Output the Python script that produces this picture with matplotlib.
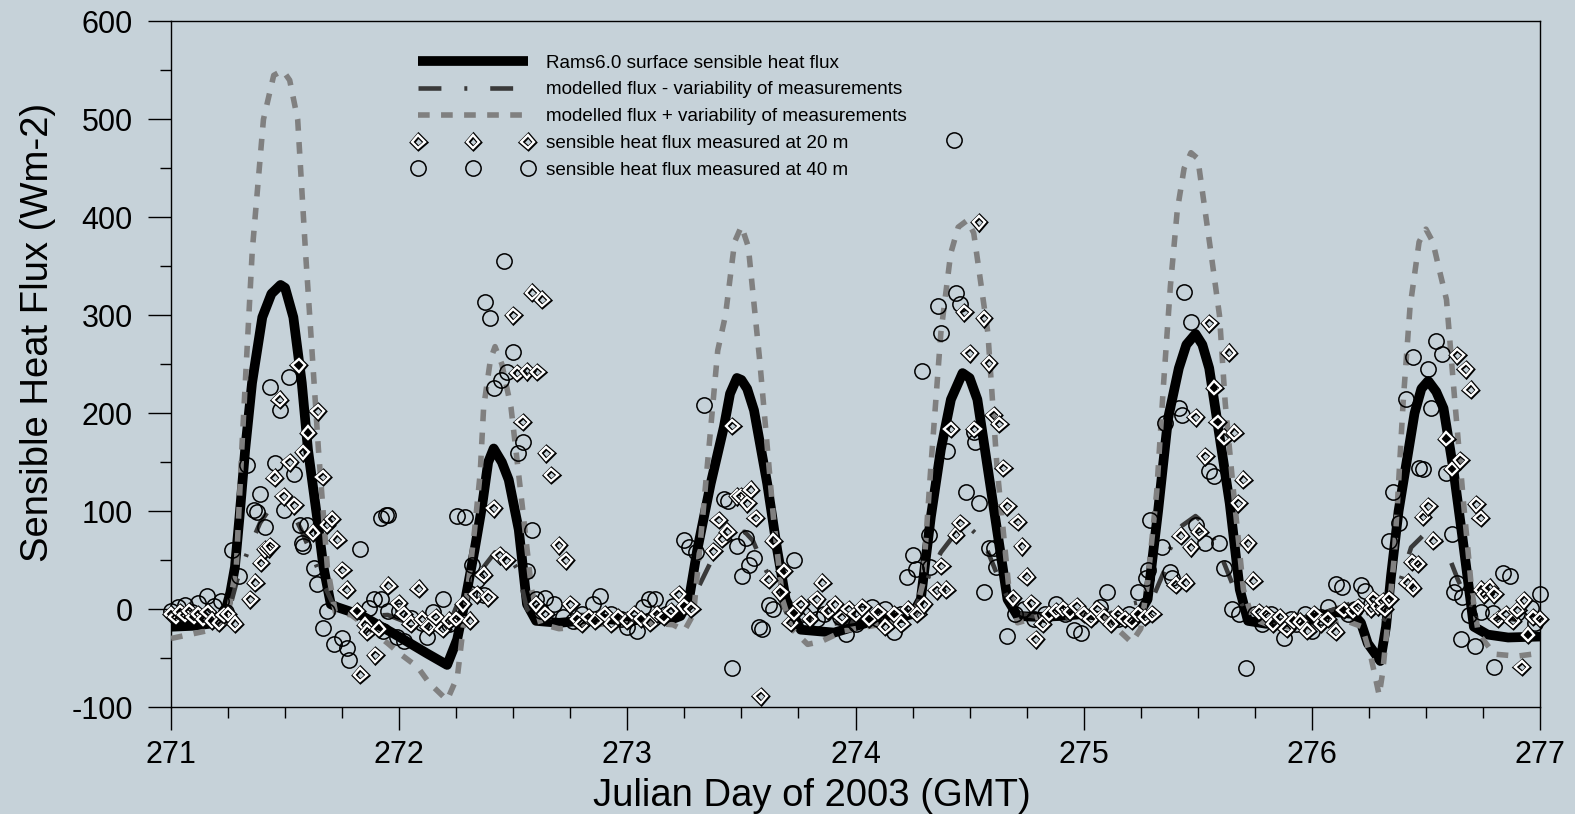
import matplotlib
matplotlib.use("Agg")
import matplotlib.pyplot as plt
from matplotlib.lines import Line2D
from matplotlib.legend_handler import HandlerLine2D
from matplotlib.ticker import MultipleLocator
import matplotlib.patheffects as pe

plt.rcParams["font.family"] = ["Liberation Sans", "DejaVu Sans"]
plt.rcParams["axes.unicode_minus"] = False

BG = "#c6d2d9"

# ---- RAMS model flux ----
t_rams = [271.0, 271.1, 271.2, 271.24, 271.26, 271.28, 271.30, 271.325, 271.355, 271.40,
          271.44, 271.48, 271.50, 271.536, 271.573, 271.60, 271.64, 271.668, 271.70, 271.728,
          271.83, 271.976, 272.12, 272.21, 272.254, 272.29, 272.33, 272.363, 272.39, 272.414,
          272.45, 272.48, 272.524, 272.56, 272.60, 272.70, 272.80, 272.90, 273.0, 273.1,
          273.2, 273.233, 273.27, 273.306, 273.365, 273.423, 273.45, 273.48, 273.50, 273.525,
          273.555, 273.613, 273.657, 273.694, 273.76, 273.906, 274.05, 274.2, 274.25, 274.286,
          274.33, 274.374, 274.418, 274.469, 274.50, 274.534, 274.578, 274.622, 274.666, 274.71,
          274.8, 274.9, 275.0, 275.1, 275.22, 275.28, 275.326, 275.37, 275.417, 275.45,
          275.49, 275.52, 275.55, 275.595, 275.64, 275.684, 275.72, 275.8, 275.9, 276.0,
          276.1, 276.18, 276.215, 276.245, 276.30, 276.325, 276.347, 276.38, 276.415, 276.45,
          276.48, 276.51, 276.545, 276.577, 276.62, 276.66, 276.688, 276.71, 276.77, 276.86,
          277.0]
rams = [-18, -17, -14, 0, 17, 43, 94, 163, 231, 298,
        322, 331, 328, 298, 231, 163, 94, 43, 5, 2,
        -6, -25, -45, -57, -31, 10, 60, 105, 150, 164,
        150, 132, 81, 5, -12, -14, -12, -10, -12, -10,
        -10, -7, 10, 60, 128, 186, 220, 236, 234, 225,
        203, 128, 60, 10, -21, -24, -14, -8, -5, 10,
        94, 163, 214, 241, 236, 214, 146, 78, 10, -7,
        -8, -7, -5, -8, -14, 10, 100, 195, 246, 270,
        281, 270, 246, 177, 108, 20, -12, -15, -14, -10,
        -3, -5, -14, -35, -53, -18, 34, 100, 150, 200,
        225, 233, 222, 205, 143, 73, 22, -18, -26, -29,
        -28]

# ---- modelled flux + variability ----
t_plus = [271.0, 271.1, 271.2, 271.25, 271.286, 271.31, 271.356, 271.405, 271.45, 271.49,
          271.52, 271.555, 271.589, 271.646, 271.685, 271.72, 271.79, 271.87, 271.95, 272.0,
          272.08, 272.13, 272.21, 272.255, 272.30, 272.33, 272.355, 272.37, 272.40, 272.42,
          272.45, 272.49, 272.54, 272.58, 272.62, 272.7, 272.8, 272.9, 273.0, 273.1,
          273.2, 273.25, 273.29, 273.33, 273.396, 273.43, 273.47, 273.5, 273.53, 273.56,
          273.58, 273.64, 273.68, 273.72, 273.79, 273.85, 273.95, 274.05, 274.15, 274.22,
          274.26, 274.295, 274.33, 274.374, 274.417, 274.45, 274.49, 274.518, 274.58, 274.62,
          274.67, 274.71, 274.8, 274.9, 275.0, 275.1, 275.21, 275.25, 275.28, 275.32,
          275.35, 275.38, 275.41, 275.44, 275.47, 275.50, 275.53, 275.56, 275.595, 275.62,
          275.654, 275.70, 275.74, 275.8, 275.9, 276.0, 276.1, 276.15, 276.22, 276.26,
          276.295, 276.31, 276.36, 276.375, 276.40, 276.43, 276.47, 276.50, 276.53, 276.56,
          276.59, 276.627, 276.665, 276.70, 276.73, 276.80, 276.90, 277.0]
plus = [-30, -25, -20, -5, 43, 163, 366, 500, 545, 550,
        540, 500, 366, 163, 43, -3, -6, -20, -35, -45,
        -59, -75, -93, -69, 20, 80, 139, 206, 255, 268,
        250, 206, 104, 20, -15, -20, -18, -15, -15, -14,
        -16, -22, -5, 94, 264, 300, 375, 391, 370, 300,
        254, 94, 10, -20, -36, -33, -22, -18, -14, -10,
        -5, 26, 145, 282, 363, 390, 397, 384, 282, 145,
        26, -14, -8, -3, -5, -10, -34, -20, 27, 120,
        230, 330, 407, 450, 466, 460, 410, 360, 300, 211,
        126, 20, -10, -15, -18, -18, -15, -12, -18, -50,
        -88, -65, 50, 108, 211, 308, 375, 388, 375, 345,
        316, 211, 108, 20, -25, -46, -48, -45]

# ---- modelled flux - variability ----
t_minus = [271.0, 271.1, 271.2, 271.25, 271.29, 271.333, 271.39, 271.44, 271.49, 271.53,
           271.57, 271.633, 271.68, 271.72, 271.8, 271.95, 272.05, 272.15, 272.21, 272.255,
           272.3, 272.36, 272.42, 272.48, 272.52, 272.56, 272.6, 272.7, 272.8, 272.9,
           273.0, 273.1, 273.2, 273.25, 273.317, 273.38, 273.45, 273.514, 273.55, 273.59,
           273.65, 273.7, 273.78, 273.9, 274.05, 274.2, 274.25, 274.32, 274.374, 274.43,
           274.5, 274.56, 274.63, 274.68, 274.72, 274.8, 274.9, 275.0, 275.1, 275.22,
           275.3, 275.355, 275.375, 275.43, 275.49, 275.54, 275.565, 275.61, 275.67, 275.72,
           275.8, 275.9, 276.0, 276.1, 276.2, 276.3, 276.33, 276.383, 276.435, 276.5,
           276.547, 276.59, 276.64, 276.69, 276.75, 276.85, 276.92, 277.0]
minus = [-5, -8, -8, -5, 30, 57, 88, 105, 112, 100,
         81, 47, 20, 0, -8, -6, -15, -20, -21, 5,
         5, 40, 58, 55, 40, 0, -10, -8, -6, -6,
         -9, -6, -4, -5, 25, 55, 75, 79, 70, 48,
         20, -5, -10, -15, -10, -6, -5, 33, 58, 75,
         83, 70, 30, 5, -5, -8, -11, -5, -6, 6,
         10, 40, 60, 85, 95, 85, 74, 50, 15, -8,
         -15, -10, -8, 0, 8, -18, -5, 25, 63, 78,
         77, 60, 30, 5, -5, -10, -11, -10]

# ---- measured at 40 m (circles) ----
t40 = [271.0, 271.03, 271.06, 271.09, 271.12, 271.157, 271.19, 271.22, 271.24,
       271.267, 271.30, 271.333, 271.362, 271.377, 271.391, 271.413, 271.435, 271.457, 271.476,
       271.494, 271.515, 271.537, 271.567, 271.58, 271.596, 271.574, 271.625, 271.64, 271.683,
       271.668, 271.713, 271.75, 271.771, 271.78, 271.83, 271.866, 271.888, 271.918, 271.918,
       271.94, 271.953, 271.93, 271.95, 271.99, 272.0, 272.02, 272.05, 272.1, 272.12,
       272.15, 272.19, 272.22, 272.254,
       272.29, 272.32, 272.375, 272.396, 272.414, 272.444, 272.458, 272.473, 272.50, 272.52,
       272.543, 272.583, 272.56, 272.37, 272.34, 272.6, 272.64, 272.62,
       272.68, 272.72, 272.76, 272.8, 272.85, 272.88, 272.93, 272.97, 273.0, 273.043,
       273.07, 273.094, 273.12, 273.17, 273.2,
       273.247, 273.27, 273.30, 273.335, 273.423, 273.44, 273.46, 273.482, 273.503, 273.518,
       273.533, 273.555, 273.577, 273.59, 273.62, 273.64, 273.73,
       273.77, 273.8, 273.83, 273.86, 273.9, 273.93, 273.96, 274.0, 274.03, 274.07,
       274.1, 274.13, 274.17, 274.2,
       274.227, 274.25, 274.264, 274.293, 274.32, 274.326, 274.36, 274.374, 274.40, 274.43,
       274.44, 274.46, 274.483, 274.52, 274.525, 274.54, 274.563, 274.585, 274.607, 274.614,
       274.666,
       274.7, 274.74, 274.78, 274.83, 274.88, 274.92, 274.958, 274.988, 275.03, 275.07,
       275.104, 275.15, 275.2, 275.236,
       275.275, 275.28, 275.29, 275.343, 275.358, 275.38, 275.387, 275.417, 275.44, 275.432,
       275.47, 275.49, 275.53, 275.55, 275.573, 275.595, 275.617, 275.65, 275.68, 275.71,
       275.75, 275.78, 275.82, 275.85, 275.88, 275.91, 275.93, 275.97, 276.0, 276.04,
       276.07, 276.105, 276.13, 276.16, 276.19, 276.215, 276.234, 276.26,
       276.34, 276.354, 276.383, 276.414, 276.443, 276.47, 276.487, 276.51, 276.524, 276.546,
       276.57, 276.59, 276.614, 276.624, 276.636, 276.654, 276.658, 276.69, 276.713, 276.742,
       276.793, 276.80, 276.837, 276.867, 276.90, 276.96, 276.976, 277.0]
f40 = [-2, 2, 4, -3, 6, 13, 3, 8, -3,
       60, 34, 147, 101, 99, 118, 84, 227, 149, 203,
       101, 237, 138, 86, 64, 86, 68, 42, 26, -2,
       -19, -36, -30, -40, -52, 61, 1, 10, 10, 93,
       96, 96, -22, -2, -28, -2, -33, -9, -14, -28,
       -3, 10, -15, 95,
       94, 45, 314, 297, 226, 234, 355, 242, 263, 159,
       171, 81, 39, 14, 30, 10, 11, -2,
       5, -8, -12, -5, 5, 13, -5, -10, -18, -22,
       2, 10, 10, -5, 3,
       71, 63, 58, 208, 112, 110, -60, 64, 34, 73,
       45, 52, -18, -20, 4, 0, 50,
       -5, 0, -10, -5, 2, -8, -25, -15, -5, 2,
       -10, 0, -23, -5,
       33, 55, 41, 243, 76, 43, 309, 282, 161, 479,
       323, 312, 120, 181, 171, 108, 17, 62, 62, 43,
       -27,
       -5, 0, -10, -5, 5, -5, -21, -24, -8, 2,
       17, -10, -5, 17,
       32, 40, 91, 63, 190, 38, 32, 205, 324, 198,
       293, 86, 67, 141, 136, 67, 42, 0, -5, -60,
       -5, -15, -5, -10, -30, -10, -15, -5, -22, -8,
       2, 26, 23, -5, 0, 25, 18, 5,
       70, 120, 88, 215, 257, 144, 143, 245, 205, 274,
       260, 139, 77, 17, 27, -31, 12, -6, -38, -3,
       -4, -59, 37, 34, -4, 1, -14, 15]

# ---- measured at 20 m (diamonds) ----
t20 = [271.0, 271.02, 271.04, 271.06, 271.08, 271.1, 271.12, 271.14, 271.16, 271.18,
       271.21, 271.23, 271.25, 271.28,
       271.348, 271.37, 271.394, 271.413, 271.428, 271.435, 271.454, 271.476, 271.494, 271.52,
       271.54, 271.56, 271.578, 271.60, 271.622, 271.642, 271.665, 271.684, 271.705, 271.728,
       271.75, 271.77, 271.815, 271.83, 271.85, 271.86, 271.895, 271.91, 271.953, 271.998,
       272.02, 272.05, 272.086, 272.1, 272.13, 272.16, 272.19, 272.22, 272.25,
       272.28, 272.31, 272.34, 272.37, 272.39, 272.414, 272.44, 272.47, 272.50, 272.517,
       272.542, 272.56, 272.583, 272.605, 272.627, 272.645, 272.666, 272.70, 272.73, 272.6,
       272.64,
       272.75, 272.78, 272.8, 272.83, 272.86, 272.9, 272.93, 272.96, 273.0, 273.03,
       273.06, 273.1, 273.13, 273.16, 273.19, 273.225, 273.25, 273.28,
       273.376, 273.40, 273.416, 273.438, 273.46, 273.48, 273.497, 273.526, 273.54, 273.562,
       273.584, 273.62, 273.64, 273.67, 273.686, 273.715, 273.73,
       273.76, 273.8, 273.83, 273.854, 273.88, 273.91, 273.94, 273.97, 274.0, 274.03,
       274.06, 274.1, 274.13, 274.17, 274.2, 274.23, 274.27, 274.3,
       274.356, 274.376, 274.398, 274.417, 274.44, 274.46, 274.476, 274.50, 274.52, 274.541,
       274.563, 274.585, 274.606, 274.63, 274.648, 274.666, 274.69, 274.71, 274.73, 274.75,
       274.77, 274.79,
       274.82, 274.85, 274.88, 274.91, 274.94, 274.97, 275.0, 275.03, 275.06, 275.09,
       275.12, 275.15, 275.18, 275.21, 275.24, 275.27, 275.3,
       275.403, 275.425, 275.447, 275.47, 275.49, 275.507, 275.533, 275.55, 275.573, 275.588,
       275.617, 275.637, 275.66, 275.677, 275.70, 275.72, 275.744,
       275.77, 275.8, 275.83, 275.86, 275.89, 275.92, 275.95, 275.98, 276.01, 276.04,
       276.07, 276.105, 276.14, 276.18, 276.2, 276.26, 276.27, 276.29, 276.31, 276.32,
       276.34,
       276.42, 276.44, 276.443, 276.465, 276.487, 276.51, 276.532, 276.59, 276.614, 276.637,
       276.65, 276.674, 276.696, 276.72, 276.74, 276.742, 276.756, 276.78, 276.80, 276.815,
       276.85, 276.88, 276.9, 276.92, 276.93, 276.947, 276.97, 277.0]
f20 = [-5, -8, -3, -6, -2, -8, -5, -10, -3, -12,
       -14, -6, -5, -15,
       10, 27, 47, 61, 62, 64, 134, 214, 115, 150,
       106, 249, 160, 180, 78, 202, 135, 86, 92, 71,
       40, 20, -2, -67, -16, -23, -47, -20, 24, 6,
       -5, -15, 21, -10, -18, -8, -20, -12, -10,
       5, -12, 15, 35, 12, 103, 55, 50, 300, 241,
       191, 243, 323, 242, 316, 159, 137, 65, 50, 5,
       -5,
       5, -10, -15, -8, -12, -5, -15, -8, -12, -5,
       -10, -14, -5, -8, -2, 15, 3, 0,
       59, 91, 72, 79, 187, 115, 115, 108, 122, 93,
       -89, 30, 70, 17, 39, -14, -4,
       5, -10, 10, 27, -2, 5, -8, 0, -5, 2,
       -10, -3, -18, -5, -15, 0, -5, 5,
       19, 44, 20, 184, 76, 88, 303, 261, 184, 395,
       297, 251, 198, 189, 144, 105, 11, 89, 64, 33,
       6, -31,
       -15, -5, -2, 0, -3, 3, -5, -10, 0, -8,
       -15, -5, -10, -12, -5, -8, -5,
       25, 75, 27, 63, 196, 79, 156, 292, 226, 191,
       175, 262, 180, 108, 132, 67, 29,
       -3, -5, -15, -8, -20, -12, -13, -22, -5, -15,
       -10, -23, -1, -2, 2, 1, 10, 3, 8, 0,
       10,
       27, 48, 22, 46, 94, 105, 70, 174, 143, 259,
       152, 245, 224, 107, 93, 20, 15, 22, 15, -10,
       -5, -12, -1, -59, 9, -26, -8, -10]

# ---- Figure ----
fig = plt.figure(figsize=(15.75, 8.14), dpi=100)
fig.patch.set_facecolor(BG)
ax = fig.add_axes([0.1086, 0.1314, 0.8692, 0.8422])
ax.set_facecolor(BG)

MINUS_DASH = (0, (5.0, 5.0, 0.65, 5.0))
PLUS_DASH = (0, (2.1, 2.05))

ax.plot(t_rams, rams, color="black", lw=7, solid_joinstyle="round", zorder=2)
ax.plot(t_minus, minus, color="#3a3a3a", lw=3.3, linestyle=MINUS_DASH, zorder=3)
ax.plot(t_plus, plus, color="#808080", lw=4, linestyle=PLUS_DASH, zorder=4)

# circles (40 m)
ax.plot(t40, f40, linestyle="none", marker="o", ms=11, mfc="none",
        mec="black", mew=1.1, clip_on=False, zorder=5)

# diamonds (20 m): black outline with white band, drawn one by one
dia_fx = [pe.Stroke(linewidth=3.5, foreground="black"), pe.Normal()]
for t, v in zip(t20, f20):
    ax.plot([t], [v], linestyle="none", marker="D", ms=6.5, mfc="none",
            mec="white", mew=1.7, clip_on=False, zorder=6, path_effects=dia_fx)

ax.set_xlim(271, 277)
ax.set_ylim(-100, 600)
ax.xaxis.set_major_locator(MultipleLocator(1))
ax.xaxis.set_minor_locator(MultipleLocator(0.25))
ax.yaxis.set_major_locator(MultipleLocator(100))
ax.yaxis.set_minor_locator(MultipleLocator(50))
ax.tick_params(which="both", direction="out", width=1.0, color="black")
ax.tick_params(axis="x", which="major", length=16.5, pad=7, labelsize=22)
ax.tick_params(axis="y", which="major", length=16.5, pad=11, labelsize=22)
ax.tick_params(which="minor", length=8)
for s in ax.spines.values():
    s.set_linewidth(1.0)
    s.set_color("black")

ax.set_xlabel("Julian Day of 2003 (GMT)", fontsize=27.5)
ax.xaxis.set_label_coords(0.468, -0.104)
ax.set_ylabel("Sensible Heat Flux (Wm-2)", fontsize=27.5)
ax.yaxis.set_label_coords(-0.084, 0.547)

# ---- Legend ----
h_rams = Line2D([], [], color="black", lw=7, solid_capstyle="butt")
h_minus = Line2D([], [], color="#3a3a3a", lw=3.3, linestyle=MINUS_DASH)
h_plus = Line2D([], [], color="#808080", lw=4, linestyle=PLUS_DASH)
h_20 = Line2D([], [], linestyle="none", marker="D", ms=6.5, mfc="none", mec="white",
              mew=1.7, path_effects=dia_fx)
h_40 = Line2D([], [], linestyle="none", marker="o", ms=11, mfc="none", mec="black", mew=1.1)
ax.legend([h_rams, h_minus, h_plus, h_20, h_40],
          ["Rams6.0 surface sensible heat flux",
           "modelled flux - variability of measurements",
           "modelled flux + variability of measurements",
           "sensible heat flux measured at 20 m",
           "sensible heat flux measured at 40 m"],
          handler_map={Line2D: HandlerLine2D(numpoints=3, marker_pad=0)},
          loc="upper left", bbox_to_anchor=(0.1806, 0.952), frameon=False,
          fontsize=13.6, handlelength=5.8, handletextpad=0.95,
          labelspacing=0.51, borderpad=0, borderaxespad=0)

fig.savefig("out.png", dpi=100, facecolor=BG)
